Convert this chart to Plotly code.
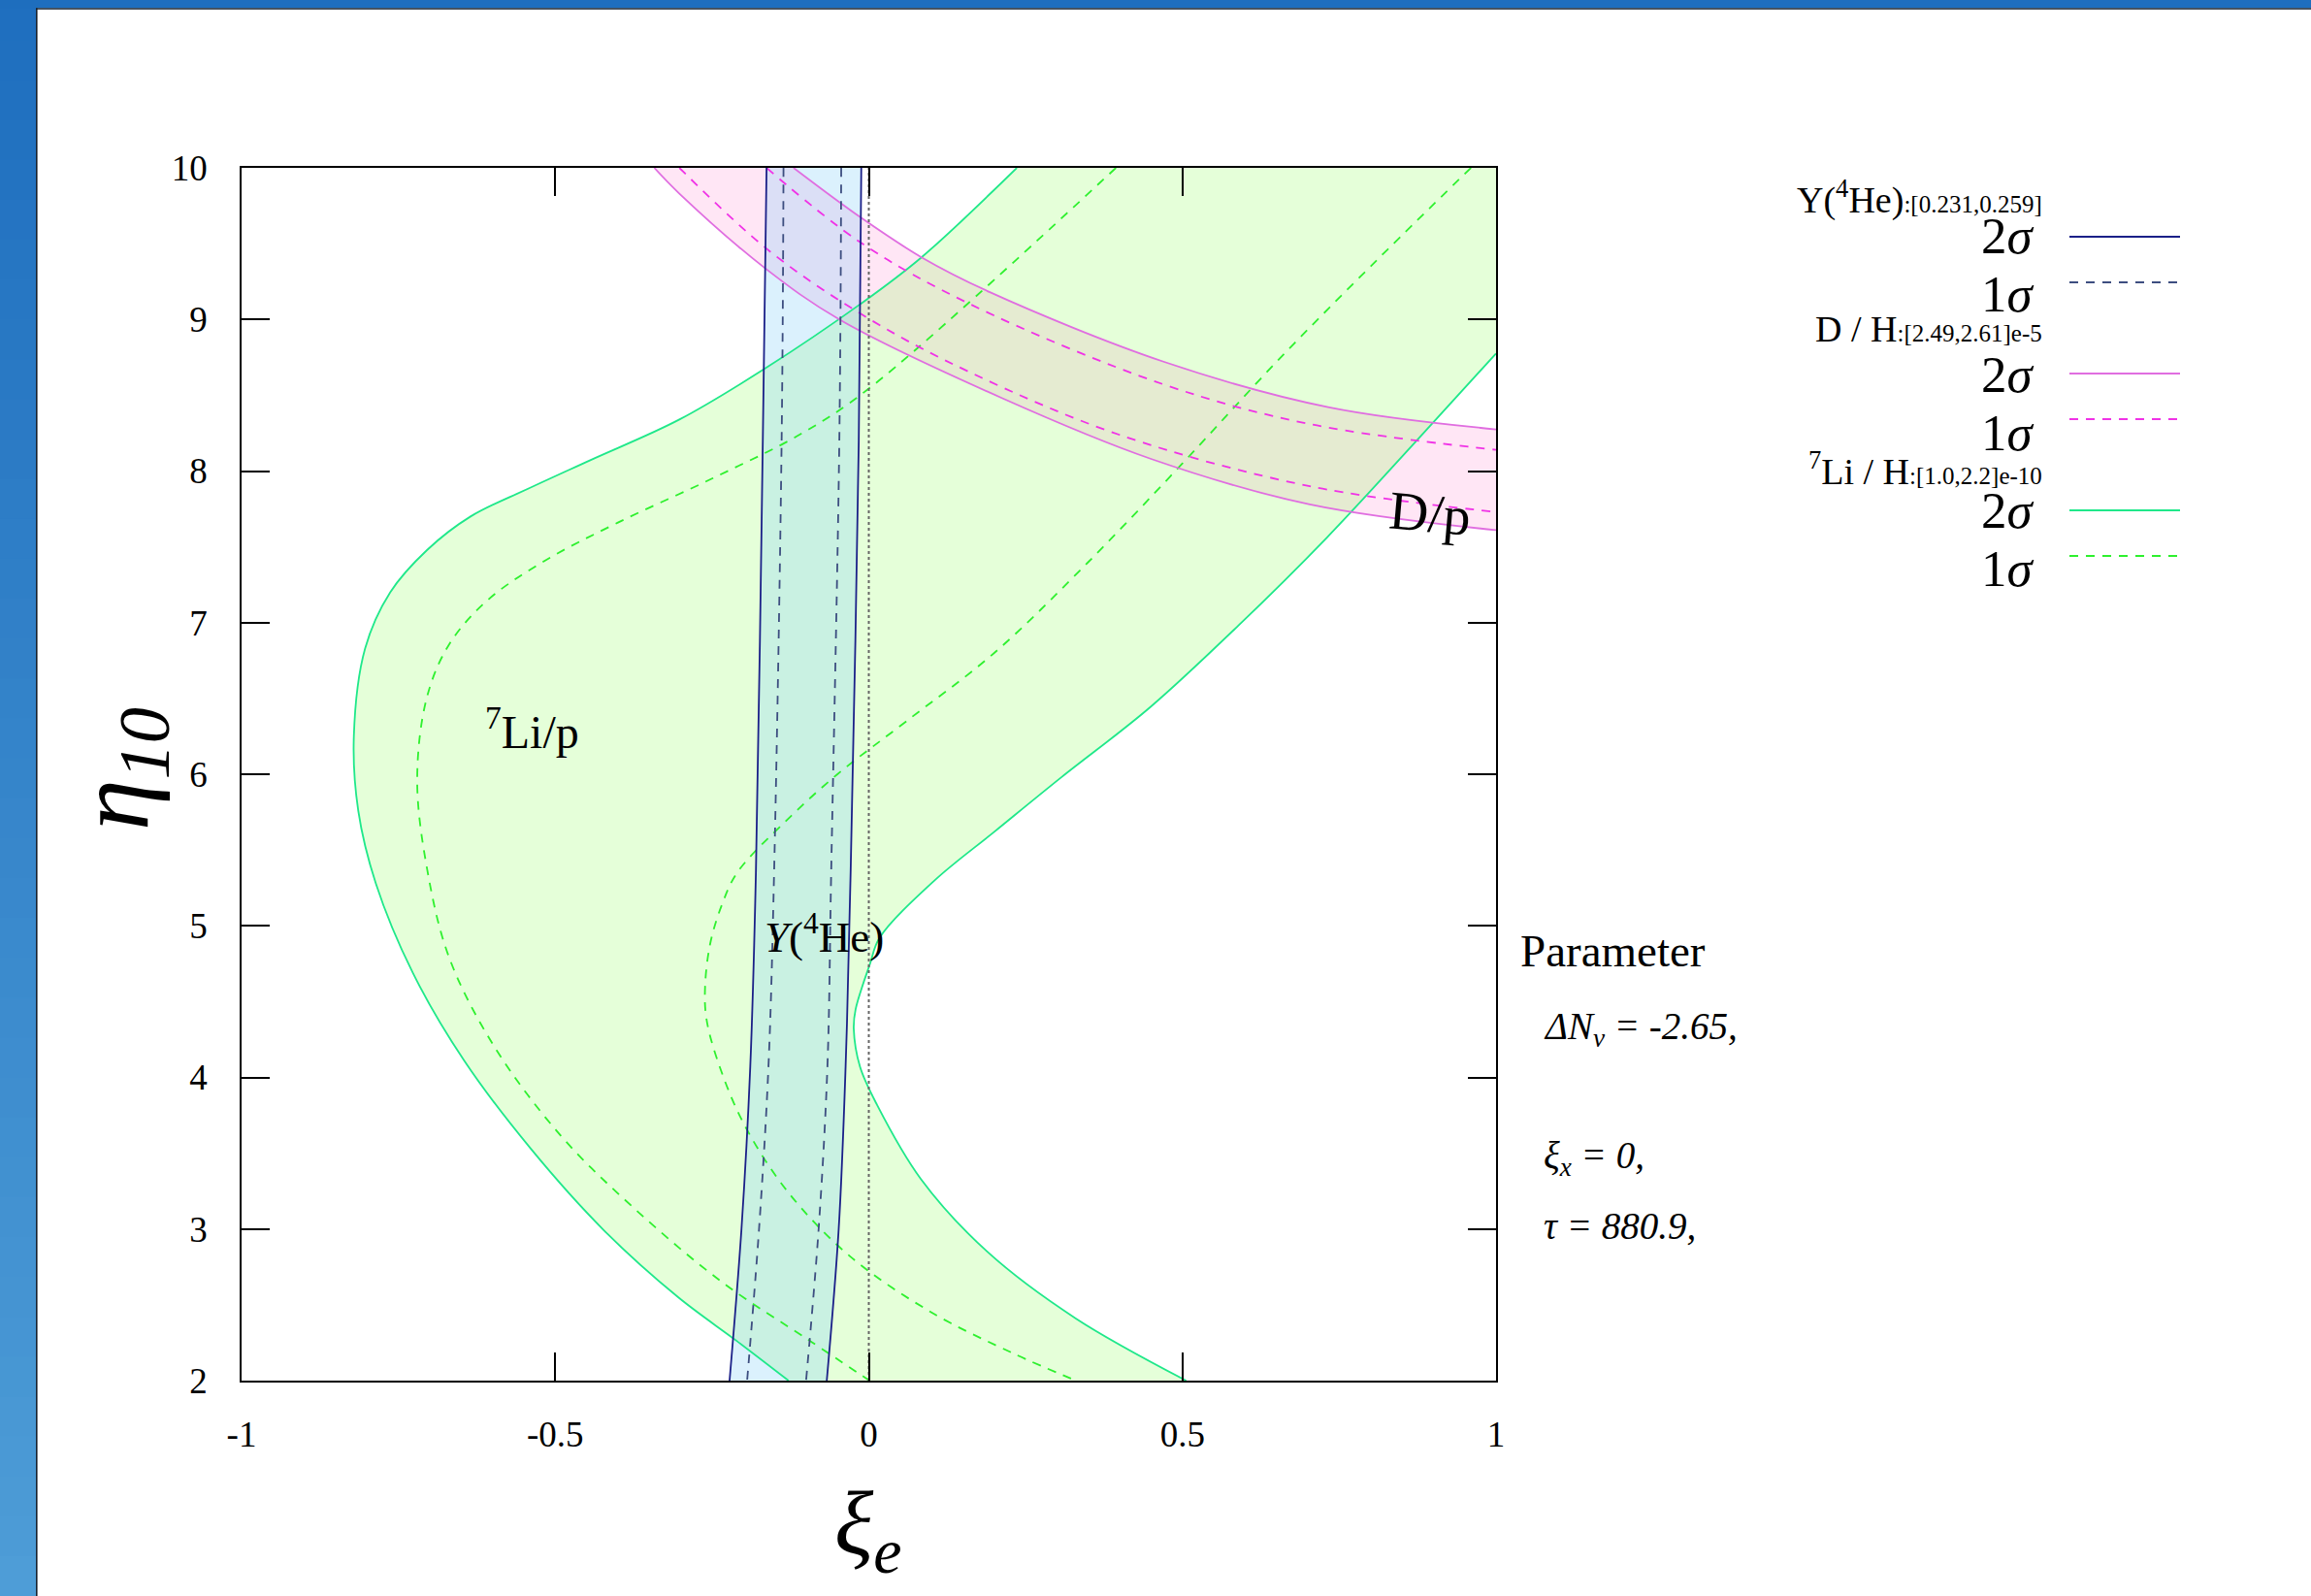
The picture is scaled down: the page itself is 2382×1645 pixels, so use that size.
import plotly.graph_objects as go

# ---------------- data ----------------
X_RANGE = [-1, 1]
Y_RANGE = [2, 10]
x_tick_vals = [-1, -0.5, 0, 0.5, 1]
x_tick_text = ["-1", "-0.5", "0", "0.5", "1"]
y_tick_vals = [2, 3, 4, 5, 6, 7, 8, 9, 10]
y_tick_text = ["2", "3", "4", "5", "6", "7", "8", "9", "10"]

# Y(4He) band: xi_e at given eta_10
he_eta = [10.0, 8.2, 5.35, 4.07, 3.0, 2.0]
he_2s_left = [-0.163, -0.169, -0.180, -0.189, -0.203, -0.222]
he_2s_right = [-0.012, -0.016, -0.029, -0.037, -0.048, -0.067]
he_1s_left = [-0.136, -0.139, -0.151, -0.160, -0.175, -0.194]
he_1s_right = [-0.044, -0.047, -0.060, -0.066, -0.080, -0.100]

# D/H band
dh2_up_x = [-0.12, -0.012, 0.084, 0.193, 0.471, 0.734, 1.0]
dh2_up_y = [10.0, 9.67, 9.41, 9.18, 8.72, 8.42, 8.275]
dh1_up_x = [-0.163, -0.014, 0.162, 0.471, 0.703, 1.0]
dh1_up_y = [10.0, 9.51, 9.10, 8.57, 8.31, 8.14]
dh1_low_x = [-0.302, -0.158, 0.002, 0.162, 0.399, 0.703, 1.0]
dh1_low_y = [10.0, 9.45, 9.0, 8.65, 8.24, 7.90, 7.73]
dh2_low_x = [-0.342, -0.302, -0.166, -0.047, 0.213, 0.45, 0.703, 1.0]
dh2_low_y = [10.0, 9.83, 9.34, 9.0, 8.48, 8.08, 7.78, 7.61]

# 7Li/H band
li2_left_x = [0.236, 0.084, -0.014, -0.166, -0.302, -0.445, -0.545, -0.635, -0.704, -0.763,
              -0.803, -0.821, -0.814, -0.786, -0.727, -0.645, -0.539, -0.422, -0.304, -0.21, -0.128]
li2_left_y = [10.0, 9.41, 9.10, 8.675, 8.34, 8.07, 7.88, 7.70, 7.48, 7.20,
              6.83, 6.25, 5.76, 5.28, 4.69, 4.11, 3.53, 2.99, 2.55, 2.26, 2.0]
li1_left_x = [0.394, 0.002, -0.106, -0.25, -0.40, -0.52, -0.61, -0.67, -0.705, -0.72,
              -0.704, -0.669, -0.598, -0.492, -0.375, -0.234, -0.093, 0.001]
li1_left_y = [10.0, 8.55, 8.25, 7.95, 7.66, 7.40, 7.14, 6.85, 6.50, 5.96,
              5.37, 4.79, 4.21, 3.62, 3.14, 2.65, 2.26, 2.0]
li1_right_x = [0.960, 0.80, 0.65, 0.50, 0.35, 0.20, 0.06, -0.05, -0.13, -0.21, -0.235,
               -0.253, -0.261, -0.259, -0.241, -0.20, -0.13, -0.03, 0.10, 0.23, 0.33]
li1_right_y = [10.0, 9.35, 8.72, 8.05, 7.40, 6.80, 6.35, 6.00, 5.70, 5.35, 5.13,
               4.88, 4.60, 4.39, 4.11, 3.70, 3.25, 2.82, 2.45, 2.18, 2.0]
li2_right_x = [1.0, 0.871, 0.73, 0.589, 0.448, 0.307, 0.20, 0.105, 0.017, 0.002, -0.021,
               -0.024, -0.014, 0.013, 0.083, 0.189, 0.33, 0.506]
li2_right_y = [8.775, 8.19, 7.56, 6.98, 6.44, 5.98, 5.62, 5.30, 4.92, 4.75, 4.45,
               4.32, 4.07, 3.82, 3.33, 2.85, 2.41, 2.0]

# ---------------- style ----------------
FONT = "Liberation Serif"
C_HE2, C_HE1 = "#1b2088", "#3d4e80"
C_DH2, C_DH1 = "#e06ee0", "#f032e6"
C_LI2, C_LI1 = "#1fe88a", "#2ef02e"
F_HE = "rgba(135,208,248,0.30)"
F_DH = "rgba(255,99,192,0.16)"
F_LI = "rgba(125,255,65,0.20)"
DASH = "9px,8px"

W, H = 2382, 1645
L, R, T, B = 249, 1542, 173, 1423


def px_x(p):
    return (p - L) / (R - L)


def px_y(p):
    return (B - p) / (B - T)


fig = go.Figure()


def ext(xs, ys, at_end=True, f=1.0):
    """point continuing a boundary curve past the frame (hidden by clipping)"""
    if at_end:
        return xs[-1] + f * (xs[-1] - xs[-2]), ys[-1] + f * (ys[-1] - ys[-2])
    return xs[0] + f * (xs[0] - xs[1]), ys[0] + f * (ys[0] - ys[1])


def band(xa, ya, xb, yb, color, extra=None):
    """closed outline: curve a forward, curve b backward, both extended past the frame"""
    sa, ea = ext(xa, ya, False), ext(xa, ya, True)
    sb, eb = ext(xb, yb, False), ext(xb, yb, True)
    px = [sa[0]] + list(xa) + [ea[0], eb[0]] + list(xb)[::-1] + [sb[0]]
    py = [sa[1]] + list(ya) + [ea[1], eb[1]] + list(yb)[::-1] + [sb[1]]
    if extra:
        px.append(extra[0])
        py.append(extra[1])
    fig.add_trace(go.Scatter(x=px, y=py, mode="lines", line=dict(width=0, shape="spline"),
                             fill="toself", fillcolor=color, hoverinfo="skip", showlegend=False))


def curve(x, y, color, dash=None, width=1.8):
    fig.add_trace(go.Scatter(x=x, y=y, mode="lines",
                             line=dict(color=color, width=width, shape="spline", dash=dash),
                             hoverinfo="skip", showlegend=False))


# fills (pink, then green, then blue on top)
band(dh2_up_x, dh2_up_y, dh2_low_x, dh2_low_y, F_DH)
band(li2_left_x, li2_left_y, li2_right_x, li2_right_y, F_LI,
     extra=(X_RANGE[1] + 0.25, Y_RANGE[1] + 1.0))
band(he_2s_left, he_eta, he_2s_right, he_eta, F_HE)

# lines
curve(li2_left_x, li2_left_y, C_LI2)
curve(li2_right_x, li2_right_y, C_LI2)
curve(li1_left_x, li1_left_y, C_LI1, DASH)
curve(li1_right_x, li1_right_y, C_LI1, DASH)
curve(dh2_up_x, dh2_up_y, C_DH2)
curve(dh2_low_x, dh2_low_y, C_DH2)
curve(dh1_up_x, dh1_up_y, C_DH1, DASH)
curve(dh1_low_x, dh1_low_y, C_DH1, DASH)
curve(he_2s_left, he_eta, C_HE2)
curve(he_2s_right, he_eta, C_HE2)
curve(he_1s_left, he_eta, C_HE1, DASH)
curve(he_1s_right, he_eta, C_HE1, DASH)
# xi_e = 0 reference
fig.add_trace(go.Scatter(x=[0, 0], y=Y_RANGE, mode="lines",
                         line=dict(color="#666666", width=2, dash="dot"),
                         hoverinfo="skip", showlegend=False))

# ---------------- background frame ----------------
shapes = []
N = 40
c0, c1 = (31, 111, 191), (78, 157, 215)
for i in range(N):
    t = i / (N - 1)
    col = "rgb(%d,%d,%d)" % tuple(int(c0[k] + (c1[k] - c0[k]) * t) for k in range(3))
    shapes.append(dict(type="rect", xref="paper", yref="paper", layer="below",
                       x0=px_x(0), x1=px_x(37), y0=px_y(H * i / N), y1=px_y(H * (i + 1) / N + 1),
                       fillcolor=col, line_width=0))
shapes.append(dict(type="rect", xref="paper", yref="paper", layer="below",
                   x0=px_x(0), x1=px_x(W), y0=px_y(0), y1=px_y(8.3),
                   fillcolor="rgb(30,110,190)", line_width=0))
shapes.append(dict(type="rect", xref="paper", yref="paper", layer="below",
                   x0=px_x(37), x1=px_x(38.6), y0=px_y(8.3), y1=px_y(H),
                   fillcolor="#15202e", line_width=0))
shapes.append(dict(type="rect", xref="paper", yref="paper", layer="below",
                   x0=px_x(37), x1=px_x(W), y0=px_y(8.3), y1=px_y(9.8),
                   fillcolor="#15202e", line_width=0))

# legend samples
leg_lines = [(244, C_HE2, None), (291, C_HE1, DASH), (385, C_DH2, None),
             (432, C_DH1, DASH), (526, C_LI2, None), (573, C_LI1, DASH)]
for py, col, dsh in leg_lines:
    shapes.append(dict(type="line", xref="paper", yref="paper",
                       x0=px_x(2133), x1=px_x(2247), y0=px_y(py), y1=px_y(py),
                       line=dict(color=col, width=1.8, dash=dsh)))

# ---------------- annotations ----------------
ann = []


def text(px, py, s, size, xanchor="center", angle=0):
    ann.append(dict(xref="paper", yref="paper", x=px_x(px), y=px_y(py), text=s,
                    showarrow=False, xanchor=xanchor, yanchor="middle", textangle=angle,
                    font=dict(family=FONT, size=size, color="black")))


headers = [
    (203, 'Y(<sup>4</sup>He)<span style="font-size:25px">:[0.231,0.259]</span>'),
    (339, 'D / H<span style="font-size:25px">:[2.49,2.61]e-5</span>'),
    (483, '<sup>7</sup>Li / H<span style="font-size:25px">:[1.0,2.2]e-10</span>'),
]
for py, s in headers:
    text(2107, py, s, 38, xanchor="right")
sig = [(243, "2<i>σ</i>"), (303, "1<i>σ</i>"), (386, "2<i>σ</i>"),
       (446, "1<i>σ</i>"), (526, "2<i>σ</i>"), (586, "1<i>σ</i>")]
for py, s in sig:
    text(2099, py, s, 53, xanchor="right")

text(1565, 980, "Parameter", 47, xanchor="left")
text(1589, 1060, "<i>ΔN<sub>ν</sub> = -2.65,</i>", 39, xanchor="left")
text(1589, 1193, "<i>ξ<sub>x</sub> = 0,</i>", 39, xanchor="left")
text(1589, 1263, "<i>τ = 880.9,</i>", 39, xanchor="left")

# axis titles
text(894, 1576, "<i>ξ<sub>e</sub></i>", 94)
ann.append(dict(xref="paper", yref="paper", x=px_x(124), y=px_y(793),
                text="<i>η<sub>10</sub></i>", showarrow=False, textangle=-90,
                xanchor="center", yanchor="middle",
                font=dict(family=FONT, size=106, color="black")))

# in-plot labels (data coordinates)
ann.append(dict(x=-0.5375, y=6.3, text="<sup>7</sup>Li/p", showarrow=False,
                font=dict(family=FONT, size=48, color="black")))
ann.append(dict(x=-0.071, y=4.95, text="<i>Y</i>(<sup>4</sup>He)", showarrow=False,
                font=dict(family=FONT, size=45, color="black")))
ann.append(dict(x=0.895, y=7.72, text="D/p", showarrow=False, textangle=5,
                font=dict(family=FONT, size=56, color="black")))

axis_common = dict(showgrid=False, zeroline=False, showline=True, linecolor="black",
                   linewidth=1.5, mirror="ticks", ticks="inside", ticklen=29,
                   tickwidth=1.5, tickcolor="black",
                   tickfont=dict(family=FONT, size=37, color="black"))

fig.update_layout(
    width=W, height=H,
    margin=dict(l=L, r=W - R, t=T, b=H - B, pad=0),
    paper_bgcolor="white", plot_bgcolor="white",
    showlegend=False,
    xaxis=dict(range=X_RANGE, tickvals=x_tick_vals, ticktext=x_tick_text,
               ticklabelstandoff=22, **axis_common),
    yaxis=dict(range=Y_RANGE, tickvals=y_tick_vals, ticktext=y_tick_text,
               ticklabelstandoff=26, **axis_common),
    shapes=shapes,
    annotations=ann,
)

fig.write_html("out.html")
